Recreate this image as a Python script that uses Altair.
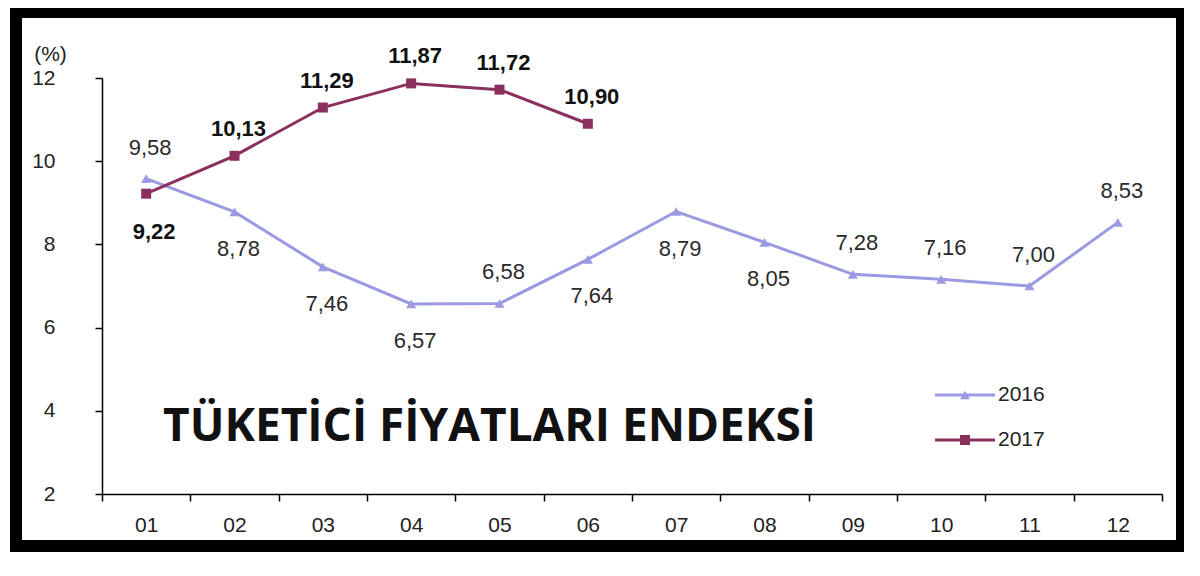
import altair as alt
import pandas as pd

months = ["01", "02", "03", "04", "05", "06", "07", "08", "09", "10", "11", "12"]
v2016 = [9.58, 8.78, 7.46, 6.57, 6.58, 7.64, 8.79, 8.05, 7.28, 7.16, 7.00, 8.53]
v2017 = [9.22, 10.13, 11.29, 11.87, 11.72, 10.90]
pos2016 = ["above", "below", "below", "below", "above", "below", "below", "below", "above", "above", "above", "above"]
pos2017 = ["below", "above", "above", "above", "above", "above"]
series = ["2016", "2017"]
y_ticks = [2, 4, 6, 8, 10, 12]
title_text = "TÜKETİCİ FİYATLARI ENDEKSİ"

C16 = "#9a9ae2"
C17 = "#8b2f5e"
FONT = "Liberation Sans"

def fmt(v):
    return f"{v:.2f}".replace(".", ",")

d16 = pd.DataFrame({"m": months, "v": v2016, "pos": pos2016})
d16["lab"] = d16["v"].map(fmt)
d17 = pd.DataFrame({"m": months[:len(v2017)], "v": v2017, "pos": pos2017})
d17["lab"] = d17["v"].map(fmt)

xenc = alt.X("m:O", sort=months, bandPosition=0.5,
             scale=alt.Scale(type="band", domain=months, paddingInner=0, paddingOuter=0),
             axis=alt.Axis(title=None, labelAngle=0, tickBand="extent", tickSize=7,
                           labelPadding=13, labelFontSize=21, labelFont=FONT,
                           labelColor="#222", domainColor="#000", tickColor="#000",
                           domainWidth=1.5, tickWidth=1.5, grid=False))
yenc = alt.Y("v:Q", scale=alt.Scale(domain=[2, 12], nice=False, zero=False),
             axis=alt.Axis(values=y_ticks, title="(%)", titleAngle=0, titleX=-52, titleY=-24,
                           titleAlign="center", titleBaseline="middle", titleFont=FONT,
                           titleFontSize=21, titleFontWeight="normal", titleColor="#222",
                           tickSize=7, labelPadding=40, labelFontSize=21, labelFont=FONT,
                           labelColor="#222", domainColor="#000", tickColor="#000",
                           domainWidth=1.5, tickWidth=1.5, grid=False))

base16 = alt.Chart(d16).encode(x=xenc, y=yenc)
base17 = alt.Chart(d17).encode(x=xenc, y=yenc)

line16 = base16.mark_line(color=C16, strokeWidth=3)
pt16 = base16.mark_point(shape="triangle-up", filled=True, color=C16, size=100, opacity=1)
line17 = base17.mark_line(color=C17, strokeWidth=3)
pt17 = base17.mark_point(shape="square", filled=True, color=C17, size=100, opacity=1)

lab16a = base16.transform_filter(alt.datum.pos == "above").mark_text(
    font=FONT, fontSize=22, color="#2a2a2a", dy=-31, dx=4, baseline="middle").encode(text="lab:N")
lab16b = base16.transform_filter(alt.datum.pos == "below").mark_text(
    font=FONT, fontSize=22, color="#2a2a2a", dy=37, dx=4, baseline="middle").encode(text="lab:N")
lab17a = base17.transform_filter(alt.datum.pos == "above").mark_text(
    font=FONT, fontSize=22, fontWeight="bold", color="#111", dy=-27, dx=4, baseline="middle").encode(text="lab:N")
lab17b = base17.transform_filter(alt.datum.pos == "below").mark_text(
    font=FONT, fontSize=22, fontWeight="bold", color="#111", dy=38, dx=8, baseline="middle").encode(text="lab:N")

one = pd.DataFrame({"a": [0]})

# legend (decoration)
legend_layers = []
for i, (name, col, shp) in enumerate([(series[0], C16, "triangle-up"), (series[1], C17, "square")]):
    yy = 317 + 45 * i
    legend_layers.append(alt.Chart(one).mark_rule(color=col, strokeWidth=3).encode(
        x=alt.value(833), x2=alt.value(893), y=alt.value(yy)))
    legend_layers.append(alt.Chart(one).mark_point(shape=shp, filled=True, color=col, size=100, opacity=1).encode(
        x=alt.value(863), y=alt.value(yy)))
    legend_layers.append(alt.Chart(one).mark_text(font=FONT, fontSize=21, color="#222", align="left",
                                                  baseline="middle").encode(
        x=alt.value(896), y=alt.value(yy), text=alt.value(name)))

title = alt.Chart(one).mark_text(font="Open Sans", fontSize=46, fontWeight="bold", color="#111",
                                 align="left", baseline="alphabetic").encode(
    x=alt.value(61), y=alt.value(363), text=alt.value(title_text))

frame = alt.Chart(one).mark_rect(filled=False, stroke="#000", strokeWidth=12).encode(
    x=alt.value(-86), x2=alt.value(1080), y=alt.value(-66), y2=alt.value(468))

chart = alt.layer(line16, line17, pt16, pt17, lab16a, lab16b, lab17a, lab17b,
                  *legend_layers, title, frame).properties(
    width=1060, height=416,
    autosize=alt.AutoSizeParams(type="none"),
    padding={"left": 94, "top": 70, "right": 22, "bottom": 74},
    background="white",
).configure_view(stroke=None)

chart.save("out.html", embed_options={"renderer": "svg", "actions": False})
